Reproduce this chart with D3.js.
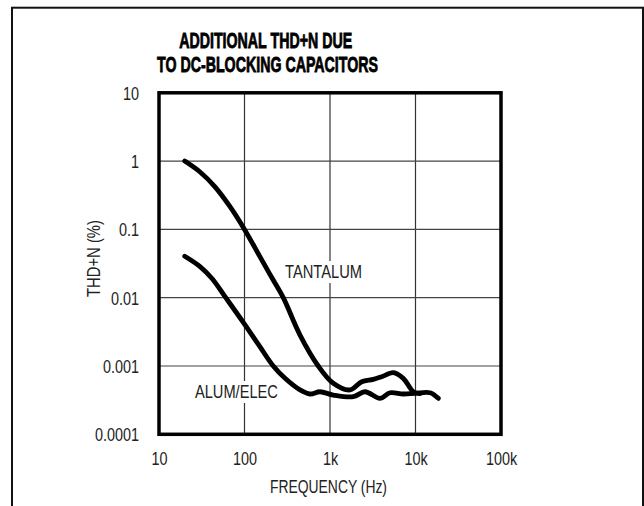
<!DOCTYPE html>
<html>
<head>
<meta charset="utf-8">
<script src="https://cdn.jsdelivr.net/npm/d3@7"></script>
<style>
  html, body { margin: 0; padding: 0; background: #fff; }
  svg { display: block; }
  text { font-family: "Liberation Sans Narrow", "Arial Narrow", "Liberation Sans", sans-serif; fill: #222; }
</style>
</head>
<body>
<script>
// ---- data ----
const titleLines = ["ADDITIONAL THD+N DUE", "TO DC-BLOCKING CAPACITORS"];
const xTickValues = [10, 100, 1000, 10000, 100000];
const xTickLabels = ["10", "100", "1k", "10k", "100k"];
const yTickValues = [10, 1, 0.1, 0.01, 0.001, 0.0001];
const yTickLabels = ["10", "1", "0.1", "0.01", "0.001", "0.0001"];
const xTitle = "FREQUENCY (Hz)";
const yTitle = "THD+N (%)";

const tantalumFreq = [20, 30.2, 45.2, 67.7, 100, 152, 210, 284, 446, 729, 1093, 1714, 2350, 3210, 4024, 5500, 7196, 9420, 11300];
const tantalumTHD  = [1.0, 0.692, 0.42, 0.215, 0.1, 0.0396, 0.0194, 0.01, 0.00284, 0.001, 0.000558, 0.000446, 0.000589, 0.000638, 0.000697, 0.000798, 0.000659, 0.00042, 0.000395];

const alumFreq = [20, 30.2, 41.7, 59.2, 100, 152, 217, 298, 446, 583, 764, 1093, 1873, 2564, 3846, 5033, 7196, 9860, 14790, 18490];
const alumTHD  = [0.0405, 0.0286, 0.0191, 0.01035, 0.0041, 0.0019, 0.001, 0.00066, 0.000446, 0.000389, 0.00042, 0.000376, 0.000355, 0.00042, 0.000336, 0.000406, 0.000389, 0.000398, 0.000406, 0.000336];

const seriesLabels = [
  { text: "TANTALUM", f: 840, v: 0.0194, width: 77 },
  { text: "ALUM/ELEC", f: 80.5, v: 0.00034, width: 83 }
];

// ---- layout ----
const W = 644, H = 506;
const plot = { left: 159, right: 501, top: 92.8, bottom: 434.3 };

const svg = d3.select("body").append("svg").attr("width", W).attr("height", H);

function fit(sel, factor) {
  sel.each(function () {
    const w = this.getComputedTextLength();
    d3.select(this).attr("textLength", w * factor).attr("lengthAdjust", "spacingAndGlyphs");
  });
}

// outer frame
svg.append("rect").attr("x", 12).attr("y", 7.7).attr("width", 631).attr("height", 530)
  .attr("fill", "none").attr("stroke", "#111").attr("stroke-width", 2);

const x = d3.scaleLog().domain([10, 100000]).range([plot.left, plot.right]);
const y = d3.scaleLog().domain([0.0001, 10]).range([plot.bottom, plot.top]);

// title (single text element, two lines)
const title = svg.append("text")
  .attr("text-anchor", "middle")
  .attr("font-size", 21.6).attr("font-weight", "bold")
  .style("fill", "#000").style("stroke", "#000").style("stroke-width", 0.8);
titleLines.forEach((t, i) => {
  title.append("tspan")
    .attr("x", [265.7, 267.5][i]).attr("y", [47.8, 72.2][i])
    .attr("textLength", [173, 221][i]).attr("lengthAdjust", "spacingAndGlyphs")
    .text(t);
});

// gridlines
const g = svg.append("g");
g.selectAll("line.vx").data(xTickValues.slice(1, -1)).join("line")
  .attr("x1", d => x(d)).attr("x2", d => x(d))
  .attr("y1", plot.top).attr("y2", plot.bottom)
  .attr("stroke", "#333").attr("stroke-width", 1.2);
g.selectAll("line.hy").data(yTickValues.slice(1, -1)).join("line")
  .attr("y1", d => y(d)).attr("y2", d => y(d))
  .attr("x1", plot.left).attr("x2", plot.right)
  .attr("stroke", "#444").attr("stroke-width", 1.2);

// series label backgrounds + text
const labelG = svg.append("g");
seriesLabels.forEach(l => {
  const t = labelG.append("text")
    .attr("x", x(l.f)).attr("y", y(l.v))
    .attr("text-anchor", "middle")
    .attr("font-size", 18)
    .attr("textLength", l.width).attr("lengthAdjust", "spacingAndGlyphs")
    .text(l.text);
  const bb = t.node().getBBox();
  labelG.insert("rect", "text")
    .attr("x", bb.x - 2).attr("y", bb.y - 1)
    .attr("width", bb.width + 4).attr("height", bb.height + 2)
    .attr("fill", "#fff");
});

// curves
const line = d3.line().x(d => x(d[0])).y(d => y(d[1])).curve(d3.curveCatmullRom.alpha(0.5));
const tantalum = tantalumFreq.map((f, i) => [f, tantalumTHD[i]]);
const alum = alumFreq.map((f, i) => [f, alumTHD[i]]);
[tantalum, alum].forEach(s => {
  svg.append("path").attr("d", line(s))
    .attr("fill", "none").attr("stroke", "#000")
    .attr("stroke-width", 4.8).attr("stroke-linecap", "round").attr("stroke-linejoin", "round");
});

// plot frame
svg.append("rect")
  .attr("x", plot.left).attr("y", plot.top)
  .attr("width", plot.right - plot.left).attr("height", plot.bottom - plot.top)
  .attr("fill", "none").attr("stroke", "#000").attr("stroke-width", 3.5);

// axes
const xAxis = d3.axisBottom(x).tickValues(xTickValues)
  .tickFormat((d, i) => xTickLabels[i]).tickSize(0).tickPadding(0);
const xa = svg.append("g").attr("transform", `translate(0,${plot.bottom})`).call(xAxis);
xa.select(".domain").remove();
xa.selectAll("text").attr("font-size", 18).attr("font-family", null)
  .attr("dy", null).attr("y", 30.7).style("fill", "#222");
fit(xa.selectAll("text"), 0.8);

const yAxis = d3.axisLeft(y).tickValues(yTickValues)
  .tickFormat((d, i) => yTickLabels[i]).tickSize(0).tickPadding(0);
const ya = svg.append("g").attr("transform", `translate(139,0)`).call(yAxis);
ya.select(".domain").remove();
ya.selectAll("text").attr("font-size", 18).attr("font-family", null)
  .attr("dy", "0.36em").attr("x", 0).style("fill", "#222");
fit(ya.selectAll("text"), 0.8);

// axis titles
svg.append("text").attr("x", 328.5).attr("y", 492.7)
  .attr("text-anchor", "middle").attr("font-size", 18.5)
  .attr("textLength", 117).attr("lengthAdjust", "spacingAndGlyphs").text(xTitle);
svg.append("text")
  .attr("transform", `translate(99.5,258.5) rotate(-90)`)
  .attr("text-anchor", "middle").attr("font-size", 18.5)
  .attr("textLength", 77).attr("lengthAdjust", "spacingAndGlyphs").text(yTitle);
</script>
</body>
</html>
